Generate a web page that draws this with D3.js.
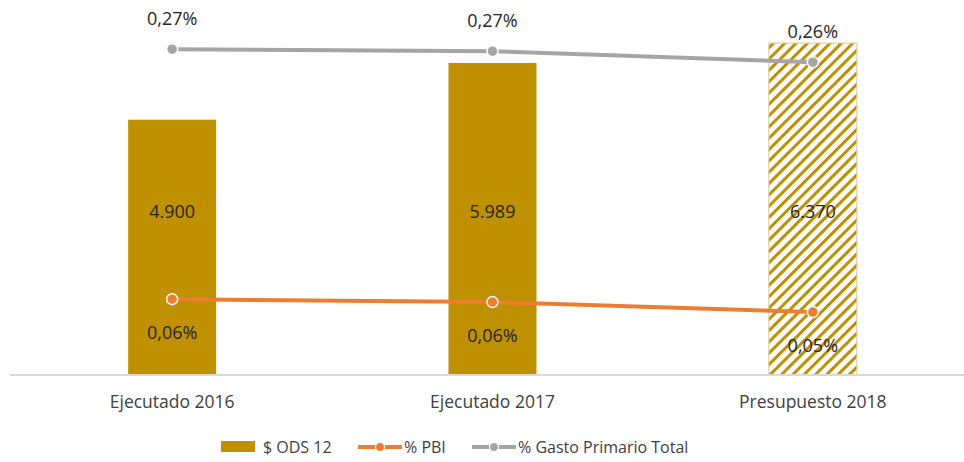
<!DOCTYPE html>
<html>
<head>
<meta charset="utf-8">
<script src="https://cdn.jsdelivr.net/npm/d3@7"></script>
<style>
  body { margin: 0; background: #fff; }
  text { font-family: "Open Sans", sans-serif; fill: #404040; }
</style>
</head>
<body>
<svg id="chart" width="964" height="462"></svg>
<script>
// DATA
var categories = ['Ejecutado 2016', 'Ejecutado 2017', 'Presupuesto 2018'];
var odsValues = [4900, 5989, 6370];
var odsLabels = ['4.900', '5.989', '6.370'];
var pbiValues = [0.063, 0.0606, 0.0523];
var pbiLabels = ['0,06%', '0,06%', '0,05%'];
var gastoValues = [0.2708, 0.2691, 0.26];
var gastoLabels = ['0,27%', '0,27%', '0,26%'];
var hatched = [false, false, true];

// COLOURS
var barColor = '#BF9000';
var pbiColor = '#ED7D31';
var gastoColor = '#A5A5A5';

var svg = d3.select('#chart');
var baseY = 375;

// SCALES
var xScale = d3.scaleBand().domain(categories).range([12, 973]).paddingInner(0.725).paddingOuter(0.3625);
var yScale = d3.scaleLinear().domain([0, 7000]).range([baseY, baseY - 364.7]);
var y2Scale = d3.scaleLinear().domain([0, 0.3]).range([baseY, baseY - 361]);

// HATCH PATTERN
var defs = svg.append('defs');
var pat = defs.append('pattern')
  .attr('id', 'hatch')
  .attr('patternUnits', 'userSpaceOnUse')
  .attr('width', 8)
  .attr('height', 8)
  .attr('patternTransform', 'rotate(45)');
pat.append('rect').attr('width', 8).attr('height', 8).attr('fill', '#fff');
pat.append('rect').attr('x', 0).attr('width', 3).attr('height', 8).attr('fill', barColor);

// BARS
var bw = 88;
svg.selectAll('.bar')
  .data(odsValues)
  .enter().append('rect')
  .attr('class', 'bar')
  .attr('x', function(d, i) { return xScale(categories[i]) + xScale.bandwidth() / 2 - bw / 2; })
  .attr('y', function(d) { return yScale(d); })
  .attr('width', bw)
  .attr('height', function(d) { return baseY - yScale(d); })
  .attr('fill', function(d, i) { return hatched[i] ? 'url(#hatch)' : barColor; })
  .attr('stroke', function(d, i) { return hatched[i] ? '#d8c890' : 'none'; })
  .attr('stroke-width', 1);

// X AXIS LINE
svg.append('line')
  .attr('x1', 10).attr('x2', 964)
  .attr('y1', baseY).attr('y2', baseY)
  .attr('stroke', '#D9D9D9')
  .attr('stroke-width', 2);

// CATEGORY LABELS
svg.selectAll('.cat')
  .data(categories)
  .enter().append('text')
  .attr('class', 'cat')
  .attr('x', function(d) { return xScale(d) + xScale.bandwidth() / 2; })
  .attr('y', 408)
  .attr('text-anchor', 'middle')
  .attr('font-size', '17.5px')
  .text(function(d) { return d; });

// BAR LABELS
svg.selectAll('.barLabel')
  .data(odsLabels)
  .enter().append('text')
  .attr('class', 'barLabel')
  .attr('x', function(d, i) { return xScale(categories[i]) + xScale.bandwidth() / 2; })
  .attr('y', 218)
  .attr('text-anchor', 'middle')
  .attr('font-size', '18px')
  .style('fill', '#262626')
  .text(function(d) { return d; });

// LINE SERIES
function drawSeries(values, labels, color, labelDy) {
  var line = d3.line()
    .x(function(d, i) { return xScale(categories[i]) + xScale.bandwidth() / 2; })
    .y(function(d) { return y2Scale(d); });

  svg.append('path')
    .datum(values)
    .attr('d', line)
    .attr('fill', 'none')
    .attr('stroke', color)
    .attr('stroke-width', 4)
    .attr('stroke-linecap', 'round');

  svg.selectAll(null)
    .data(values)
    .enter().append('circle')
    .attr('cx', function(d, i) { return xScale(categories[i]) + xScale.bandwidth() / 2; })
    .attr('cy', function(d) { return y2Scale(d); })
    .attr('r', 5.5)
    .attr('fill', color)
    .attr('stroke', '#fff')
    .attr('stroke-width', 1.5);

  svg.selectAll(null)
    .data(values)
    .enter().append('text')
    .attr('x', function(d, i) { return xScale(categories[i]) + xScale.bandwidth() / 2; })
    .attr('y', function(d) { return y2Scale(d) + labelDy; })
    .attr('text-anchor', 'middle')
    .attr('font-size', '18px')
    .style('fill', '#262626')
    .text(function(d, i) { return labels[i]; });
}

drawSeries(pbiValues, pbiLabels, pbiColor, 40);
drawSeries(gastoValues, gastoLabels, gastoColor, -24);

// LEGEND
var leg = svg.append('g');
leg.append('rect')
  .attr('x', 221).attr('y', 441)
  .attr('width', 34).attr('height', 11)
  .attr('fill', barColor);
leg.append('text').attr('x', 263).attr('y', 453).attr('font-size', '16px').text('$ ODS 12');

var legItems = [
  { x: 358, color: pbiColor, label: '% PBI' },
  { x: 472, color: gastoColor, label: '% Gasto Primario Total' }
];
legItems.forEach(function(it) {
  leg.append('line')
    .attr('x1', it.x).attr('x2', it.x + 44)
    .attr('y1', 447).attr('y2', 447)
    .attr('stroke', it.color).attr('stroke-width', 4);
  leg.append('circle')
    .attr('cx', it.x + 22).attr('cy', 447).attr('r', 4.5)
    .attr('fill', it.color).attr('stroke', '#fff').attr('stroke-width', 1.2);
  leg.append('text').attr('x', it.x + 46).attr('y', 453).attr('font-size', '16px').text(it.label);
});
</script>
</body>
</html>
